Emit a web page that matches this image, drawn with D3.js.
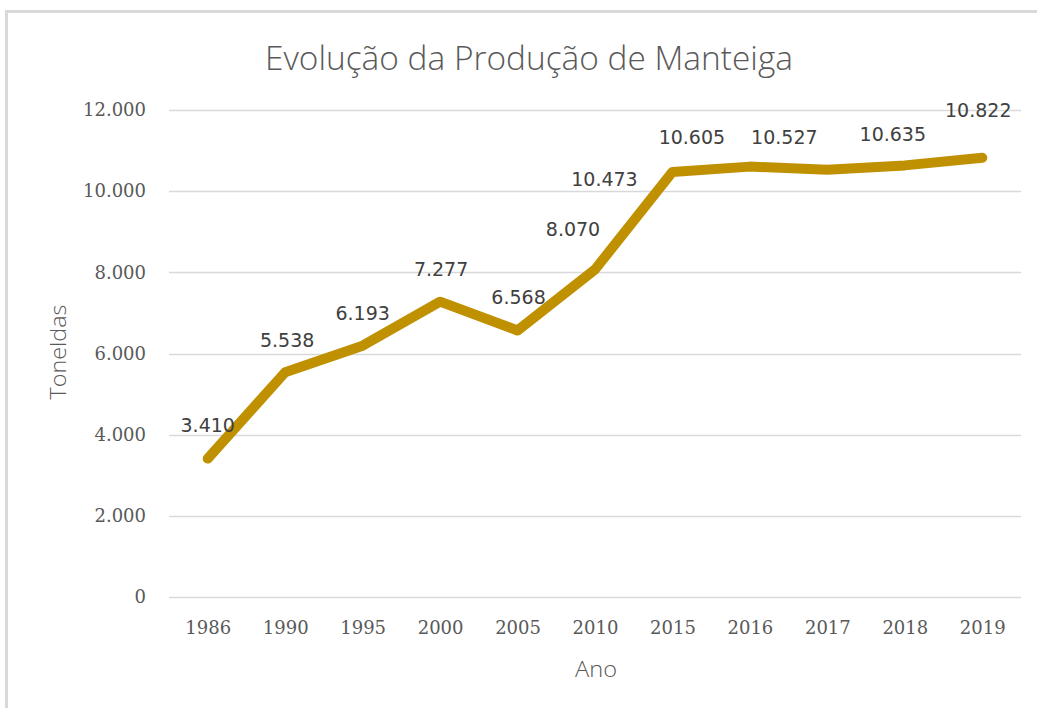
<!DOCTYPE html>
<html>
<head>
<meta charset="utf-8">
<script src="https://cdn.jsdelivr.net/npm/d3@7"></script>
<style>
  html, body { margin: 0; padding: 0; background: #fff; }
  svg { display: block; }
</style>
</head>
<body>
<svg id="chart" width="1037" height="708"></svg>
<script>
// ---- data ----
const categories = ["1986", "1990", "1995", "2000", "2005", "2010", "2015", "2016", "2017", "2018", "2019"];
const production = [3410, 5538, 6193, 7277, 6568, 8070, 10473, 10605, 10527, 10635, 10822];
const yTicks = [0, 2000, 4000, 6000, 8000, 10000, 12000];
const title = "Evolução da Produção de Manteiga";
const xTitle = "Ano";
const yTitle = "Toneldas";
// manual label nudges (pixels, relative to the point) as placed in the reference
const labelNudges = [[0, -33], [2, -32], [0, -33], [1, -33], [1, -33], [-22, -40], [-68, 7], [-58, -29], [-43, -33], [-12, -31], [-4, -48]];

const svg = d3.select("#chart");
const W = 1037, H = 708;

// chart border
svg.append("rect")
  .attr("x", 6.5).attr("y", 11.5)
  .attr("width", W + 20).attr("height", H + 20)
  .attr("fill", "none").attr("stroke", "#d9d9d9").attr("stroke-width", 3);

const plot = { left: 169, right: 1021, top: 110, bottom: 597 };

const x = d3.scalePoint().domain(categories).range([plot.left, plot.right]).padding(0.5);
const y = d3.scaleLinear().domain([0, 12000]).range([plot.bottom, plot.top]);

const loc = d3.formatLocale({ decimal: ",", thousands: ".", grouping: [3], currency: ["", ""] });
const fmt = loc.format(",d");

// gridlines + y labels via axis
const yAxis = d3.axisLeft(y).tickValues(yTicks).tickFormat(fmt).tickSize(0).tickPadding(23);
const gy = svg.append("g").attr("transform", `translate(${plot.left},0)`).call(yAxis);
gy.select(".domain").remove();
gy.selectAll(".tick line").remove();
gy.selectAll(".tick text")
  .attr("fill", "#595959")
  .style("font-family", "'DejaVu Serif', serif")
  .style("font-size", "18px");

svg.append("g").selectAll("line").data(yTicks).join("line")
  .attr("x1", plot.left).attr("x2", plot.right)
  .attr("y1", d => Math.round(y(d)) + 0.5).attr("y2", d => Math.round(y(d)) + 0.5)
  .attr("stroke", "#d9d9d9").attr("stroke-width", 1.3);

// x axis labels
const xAxis = d3.axisBottom(x).tickSize(0).tickPadding(24);
const gx = svg.append("g").attr("transform", `translate(0,${plot.bottom})`).call(xAxis);
gx.select(".domain").remove();
gx.selectAll(".tick text")
  .attr("fill", "#595959")
  .style("font-family", "'DejaVu Serif', serif")
  .style("font-size", "18px");

// line
const line = d3.line().x((d, i) => x(categories[i])).y(d => y(d));
svg.append("path")
  .datum(production)
  .attr("d", line)
  .attr("fill", "none")
  .attr("stroke", "#bf9000")
  .attr("stroke-width", 10)
  .attr("stroke-linejoin", "round")
  .attr("stroke-linecap", "round");

// data labels
svg.append("g").selectAll("text").data(production).join("text")
  .attr("x", (d, i) => x(categories[i]) + labelNudges[i][0])
  .attr("y", (d, i) => y(d) + labelNudges[i][1])
  .attr("dy", "0.36em")
  .attr("text-anchor", "middle")
  .attr("fill", "#404040")
  .style("font-family", "'DejaVu Sans', sans-serif")
  .style("font-size", "19px")
  .text(d => fmt(d));

// title
svg.append("text")
  .attr("x", 529).attr("y", 70)
  .attr("text-anchor", "middle")
  .attr("fill", "#595959")
  .attr("textLength", 528).attr("lengthAdjust", "spacingAndGlyphs")
  .style("font-family", "'Open Sans', sans-serif")
  .style("font-weight", 300)
  .style("font-size", "33px")
  .text(title);

// axis titles
svg.append("text")
  .attr("x", 596).attr("y", 677)
  .attr("text-anchor", "middle")
  .attr("fill", "#595959")
  .attr("textLength", 42).attr("lengthAdjust", "spacingAndGlyphs")
  .style("font-family", "'Open Sans', sans-serif")
  .style("font-weight", 300)
  .style("font-size", "22px")
  .text(xTitle);

svg.append("text")
  .attr("transform", "translate(66,352) rotate(-90)")
  .attr("text-anchor", "middle")
  .attr("fill", "#595959")
  .attr("textLength", 95).attr("lengthAdjust", "spacingAndGlyphs")
  .style("font-family", "'Open Sans', sans-serif")
  .style("font-weight", 300)
  .style("font-size", "22px")
  .text(yTitle);
</script>
</body>
</html>
